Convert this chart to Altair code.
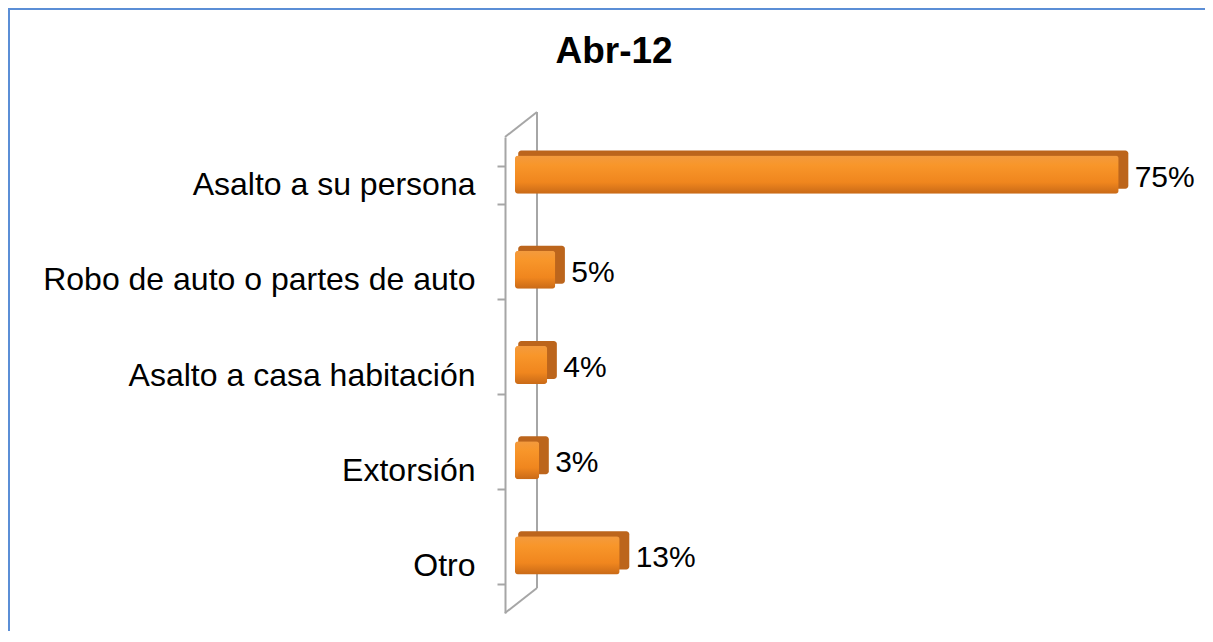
import altair as alt
import pandas as pd

title_text = ["Abr-12"]
categories = ["Asalto a su persona", "Robo de auto o partes de auto",
              "Asalto a casa habitación", "Extorsión", "Otro"]
values = [75, 5, 4, 3, 13]
labels = ["75%", "5%", "4%", "3%", "13%"]

df = pd.DataFrame({"cat": categories, "val": values, "lab": labels})
one = pd.DataFrame({"t": title_text})

W, H = 660, 476
FONT = "Liberation Sans"
GRAY = "#A6A6A6"
XSCALE = alt.Scale(domain=[0, 82])

y_enc = alt.Y(
    "cat:N", sort=categories,
    scale=alt.Scale(paddingInner=0.6, paddingOuter=0.3),
    axis=alt.Axis(title=None, offset=10, tickBand="extent",
                  domainColor=GRAY, domainWidth=2, tickColor=GRAY, tickWidth=2,
                  tickSize=8, labelPadding=22, labelFont=FONT, labelFontSize=32,
                  labelColor="#000000", labelLimit=0))
x_enc = alt.X("val:Q", scale=XSCALE, axis=None)

base = alt.Chart(df)

# 3D wall lines (decoration)
wall_back = alt.Chart(one).mark_rule(color=GRAY, strokeWidth=2).encode(
    x=alt.value(22), y=alt.value(-25), y2=alt.value(H - 25))
wall_top = alt.Chart(one).mark_rule(color=GRAY, strokeWidth=2).encode(
    x=alt.value(-10), y=alt.value(0), x2=alt.value(22), y2=alt.value(-25))
wall_bot = alt.Chart(one).mark_rule(color=GRAY, strokeWidth=2).encode(
    x=alt.value(-10), y=alt.value(H), x2=alt.value(22), y2=alt.value(H - 25))

# outer chart border (top and left visible)
border_top = alt.Chart(one).mark_rule(color="#5B8ED6", strokeWidth=2).encode(
    x=alt.value(-508), x2=alt.value(W + 30), y=alt.value(-128))
border_left = alt.Chart(one).mark_rule(color="#5B8ED6", strokeWidth=2).encode(
    x=alt.value(-506), y=alt.value(-129), y2=alt.value(H + 18))

# title
title = alt.Chart(one).mark_text(
    font=FONT, fontSize=37, fontWeight="bold", color="#000000",
    align="center", baseline="alphabetic").encode(
    x=alt.value(99), y=alt.value(-74), text="t:N")

# depth (top + side faces of the 3D bar)
depth = base.transform_calculate(
    d_end="datum.val + 1.2", d_start="0.4"
).mark_bar(color="#BC651C", cornerRadius=3, yOffset=-15, y2Offset=-15).encode(
    x=alt.X("d_end:Q", scale=XSCALE, axis=None), x2="d_start:Q", y=y_enc)

front_grad = alt.Gradient(
    gradient="linear", x1=0, y1=0, x2=0, y2=1,
    stops=[alt.GradientStop(color="#F39A3E", offset=0),
           alt.GradientStop(color="#F8962A", offset=0.25),
           alt.GradientStop(color="#F0861E", offset=0.7),
           alt.GradientStop(color="#C96A17", offset=1)])
front = base.mark_bar(color=front_grad, cornerRadius=3,
                      yOffset=-10, y2Offset=-10).encode(x=x_enc, y=y_enc)

text = base.mark_text(align="left", baseline="middle", dx=16, dy=-7,
                      font=FONT, fontSize=30, color="#000000").encode(
    x=x_enc, y=y_enc, text="lab:N")

chart = alt.layer(
    border_top, border_left, title, wall_back, wall_top, wall_bot, depth, front, text
).properties(
    width=W, height=H,
    padding={"left": 507, "top": 129, "right": 30, "bottom": 18},
    autosize=alt.AutoSizeParams(type="none"),
    background="white",
).configure_view(stroke=None)

chart.save("out.html", embed_options={"renderer": "svg", "actions": False})
